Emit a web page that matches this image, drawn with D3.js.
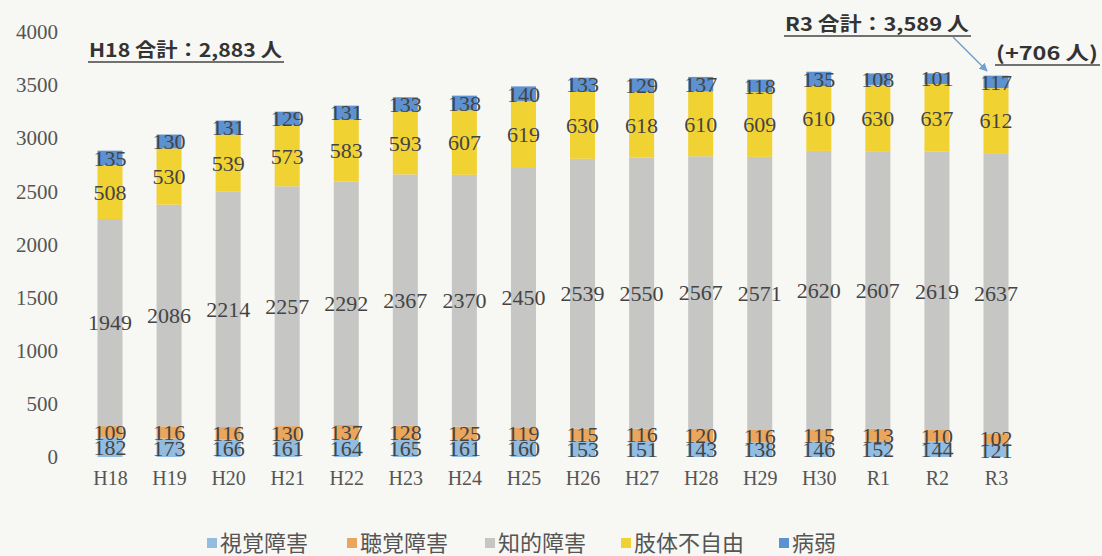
<!DOCTYPE html>
<html>
<head>
<meta charset="utf-8">
<script src="https://cdn.jsdelivr.net/npm/d3@7"></script>
<style>
  body { margin: 0; background: #f7f7f3; }
  svg { display: block; }
  .lbl { font-family: "Liberation Serif", serif; font-size: 22px; fill: #444; }
  .note { font-family: "Noto Sans CJK JP", sans-serif; font-weight: bold; font-size: 19px; fill: #333; }
  .leg { font-family: "Noto Sans CJK JP", sans-serif; font-size: 22px; fill: #555; }
</style>
</head>
<body>
<svg id="chart" width="1102" height="556"></svg>
<script>
// years
var years = ["H18","H19","H20","H21","H22","H23","H24","H25","H26","H27","H28","H29","H30","R1","R2","R3"];
// series values (people)
var shikaku = [182,173,166,161,164,165,161,160,153,151,143,138,146,152,144,121];
var choukaku = [109,116,116,130,137,128,125,119,115,116,120,116,115,113,110,102];
var chiteki = [1949,2086,2214,2257,2292,2367,2370,2450,2539,2550,2567,2571,2620,2607,2619,2637];
var shitai = [508,530,539,573,583,593,607,619,630,618,610,609,610,630,637,612];
var byoujaku = [135,130,131,129,131,133,138,140,133,129,137,118,135,108,101,117];
var seriesNames = ["視覚障害","聴覚障害","知的障害","肢体不自由","病弱"];
var colors = ["#93bde0","#eaa65c","#c6c6c4","#f1d233","#5d92d2"];
var yTicks = [0,500,1000,1500,2000,2500,3000,3500,4000];

var seriesVals = [shikaku, choukaku, chiteki, shitai, byoujaku];
var rows = years.map(function(y, i) {
  var r = {year: y};
  seriesNames.forEach(function(s, j) { r[s] = seriesVals[j][i]; });
  return r;
});

var svg = d3.select("#chart");
var margin = {top: 32, right: 76, bottom: 99, left: 80};
var width = 1102 - margin.left - margin.right;
var height = 556 - margin.top - margin.bottom;
var barW = 25;

var g = svg.append("g")
  .attr("transform", "translate(" + margin.left + "," + margin.top + ")");

// bar centres
var x = d3.scalePoint().domain(years).range([30, 916]);
var y = d3.scaleLinear().domain([0, 4000]).range([height, 0]);

var stack = d3.stack().keys(seriesNames)(rows);

function styleAxis(a, size) {
  a.select(".domain").remove();
  a.selectAll("text")
    .style("font-family", '"Liberation Serif", serif')
    .style("font-size", size + "px")
    .attr("fill", "#555");
}

// y axis
g.append("g")
  .call(d3.axisLeft(y).tickValues(yTicks).tickFormat(d3.format("d")).tickSize(0).tickPadding(22))
  .call(styleAxis, 21);

// x axis
g.append("g")
  .attr("transform", "translate(0," + height + ")")
  .call(d3.axisBottom(x).tickSize(0).tickPadding(14))
  .call(styleAxis, 20);

// bars
var layer = g.selectAll(".layer")
  .data(stack)
  .enter().append("g")
  .attr("fill", function(d, i) { return colors[i]; });

layer.selectAll("rect")
  .data(function(d) { return d; })
  .enter().append("rect")
  .attr("x", function(d) { return x(d.data.year) - barW / 2; })
  .attr("y", function(d) { return y(d[1]); })
  .attr("width", barW)
  .attr("height", function(d) { return y(d[0]) - y(d[1]); });

// value labels
stack.forEach(function(s) {
  g.selectAll(null)
    .data(s)
    .enter().append("text")
    .attr("class", "lbl")
    .attr("text-anchor", "middle")
    .attr("dy", "0.35em")
    .attr("x", function(d) { return x(d.data.year); })
    .attr("y", function(d) { return (y(d[0]) + y(d[1])) / 2; })
    .text(function(d) { return d.data[s.key]; });
});

// legend
var legX = [207, 347, 485, 621, 779];
var leg = svg.append("g").selectAll("g")
  .data(seriesNames)
  .enter().append("g")
  .attr("transform", function(d, i) { return "translate(" + legX[i] + ",543)"; });
leg.append("rect").attr("x", 0).attr("y", -5).attr("width", 10).attr("height", 10)
  .attr("fill", function(d, i) { return colors[i]; });
leg.append("text").attr("class", "leg").attr("x", 13).attr("dy", "0.35em")
  .text(function(d) { return d; });

// total notes
var total0 = d3.sum(seriesVals, function(v) { return v[0]; });
var totalN = d3.sum(seriesVals, function(v) { return v[v.length - 1]; });
var fmt = d3.format(",");

function note(tx, ty, w, str) {
  svg.append("text").attr("class", "note").attr("x", tx).attr("y", ty)
    .attr("textLength", w).attr("lengthAdjust", "spacingAndGlyphs").text(str);
  svg.append("line").attr("x1", tx - 1).attr("x2", tx + w + 2)
    .attr("y1", ty + 5).attr("y2", ty + 5).attr("stroke", "#444").attr("stroke-width", 1.6);
}
note(89, 57, 193, years[0] + " 合計：" + fmt(total0) + " 人");
note(785, 31, 184, years[years.length - 1] + " 合計：" + fmt(totalN) + " 人");
note(996, 60, 102, "(+" + (totalN - total0) + " 人)");

// arrow
svg.append("defs").append("marker")
  .attr("id", "arr").attr("viewBox", "0 0 10 10").attr("refX", 9).attr("refY", 5)
  .attr("markerWidth", 7).attr("markerHeight", 7).attr("orient", "auto")
  .append("path").attr("d", "M0,0L10,5L0,10z").attr("fill", "#6aa2d8");
svg.append("line").attr("x1", 953).attr("y1", 37).attr("x2", 987).attr("y2", 71)
  .attr("stroke", "#6f98c0").attr("stroke-width", 1.2).attr("marker-end", "url(#arr)");
</script>
</body>
</html>
